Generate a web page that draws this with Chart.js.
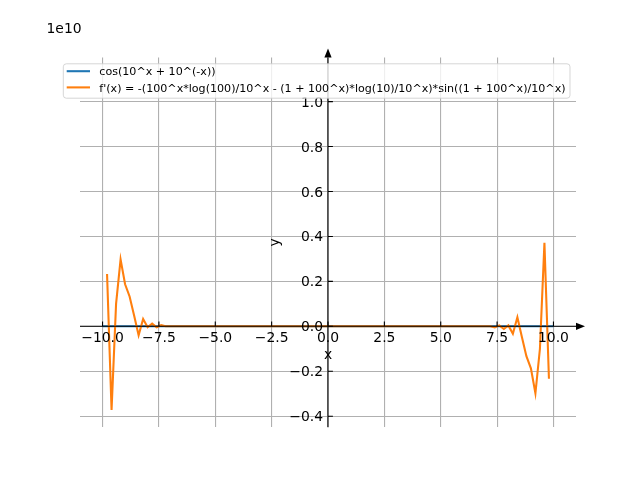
<!DOCTYPE html>
<html>
<head>
<meta charset="utf-8">
<script src="https://cdn.jsdelivr.net/npm/chart.js@4.4.1/dist/chart.umd.min.js"></script>
<style>
  body { margin: 0; background: #ffffff; }
  #wrap { width: 640px; height: 480px; }
</style>
</head>
<body>
<div id="wrap"><canvas id="plot" width="640" height="480"></canvas></div>
<script>
// values are in units of 1e10
var seriesNames = [
  "cos(10^x + 10^(-x))",
  "f'(x) = -(100^x*log(100)/10^x - (1 + 100^x)*log(10)/10^x)*sin((1 + 100^x)/10^x)"
];

var cosX = [-10, -5, 0, 5, 10];
var cosY = [0, 0, 0, 0, 0];

var derivX = [-9.8, -9.6, -9.4, -9.2, -9.0, -8.8, -8.6, -8.4, -8.2, -8.0, -7.8, -7.6, -7.4, -7.2,
  7.2, 7.4, 7.6, 7.8, 8.0, 8.2, 8.4, 8.6, 8.8, 9.0, 9.2, 9.4, 9.6, 9.8];
var derivY = [0.233, -0.372, 0.1, 0.298, 0.187, 0.133, 0.048, -0.04, 0.033, -0.004, 0.012, -0.004, 0.005, 0,
  0, -0.005, 0.004, -0.012, 0.004, -0.033, 0.04, -0.048, -0.133, -0.187, -0.298, -0.1, 0.372, -0.233];

var xTicks = [-10, -7.5, -5, -2.5, 0, 2.5, 5, 7.5, 10];
var xTickLabels = ["\u221210.0", "\u22127.5", "\u22125.0", "\u22122.5", "0.0", "2.5", "5.0", "7.5", "10.0"];
var yTicks = [-0.4, -0.2, 0, 0.2, 0.4, 0.6, 0.8, 1.0];
var yTickLabels = ["\u22120.4", "\u22120.2", "0.0", "0.2", "0.4", "0.6", "0.8", "1.0"];

var colors = ["#1f77b4", "#ff7f0e"];
var font = "DejaVu Sans";

function pts(xs, ys) {
  var out = [];
  for (var i = 0; i < xs.length; i++) out.push({ x: xs[i], y: ys[i] });
  return out;
}

var axesPlugin = {
  id: "centerAxes",
  afterDatasetsDraw: function (chart) {
    var ctx = chart.ctx;
    var xs = chart.scales.x, ys = chart.scales.y;
    var area = chart.chartArea;
    var x0 = xs.getPixelForValue(0);
    var y0 = ys.getPixelForValue(0);

    ctx.save();
    ctx.strokeStyle = "#000";
    ctx.fillStyle = "#000";
    ctx.lineWidth = 1.1;

    // spines through the origin
    ctx.beginPath();
    ctx.moveTo(area.left, y0);
    ctx.lineTo(area.right, y0);
    ctx.moveTo(x0, area.bottom);
    ctx.lineTo(x0, area.top);
    ctx.stroke();

    // arrow heads
    ctx.beginPath();
    ctx.moveTo(area.right + 9, y0);
    ctx.lineTo(area.right, y0 - 3.6);
    ctx.lineTo(area.right, y0 + 3.6);
    ctx.closePath();
    ctx.fill();
    ctx.beginPath();
    ctx.moveTo(x0, area.top - 9);
    ctx.lineTo(x0 - 3.6, area.top);
    ctx.lineTo(x0 + 3.6, area.top);
    ctx.closePath();
    ctx.fill();

    // ticks and labels
    ctx.font = "13.9px '" + font + "'";
    ctx.beginPath();
    for (var i = 0; i < xTicks.length; i++) {
      var px = xs.getPixelForValue(xTicks[i]);
      ctx.moveTo(px, y0);
      ctx.lineTo(px, y0 - 4.9);
    }
    for (var j = 0; j < yTicks.length; j++) {
      var py = ys.getPixelForValue(yTicks[j]);
      ctx.moveTo(x0, py);
      ctx.lineTo(x0 + 4.9, py);
    }
    ctx.stroke();

    ctx.textAlign = "center";
    ctx.textBaseline = "alphabetic";
    for (var i = 0; i < xTicks.length; i++) {
      ctx.fillText(xTickLabels[i], xs.getPixelForValue(xTicks[i]), y0 + 15.3);
    }
    ctx.textAlign = "right";
    for (var j = 0; j < yTicks.length; j++) {
      ctx.fillText(yTickLabels[j], x0 - 4.9, ys.getPixelForValue(yTicks[j]) + 5);
    }

    // axis labels and offset text
    ctx.textAlign = "center";
    ctx.fillText("x", (area.left + area.right) / 2, 359);
    ctx.save();
    ctx.translate(279, (area.top + area.bottom) / 2);
    ctx.rotate(-Math.PI / 2);
    ctx.fillText("y", 0, 0);
    ctx.restore();
    ctx.textAlign = "left";
    ctx.fillText("1e10", 46.5, 33.4);

    // legend
    var lx = 63.3, ly = 63.8, lw = 506.7, lh = 34.4;
    ctx.beginPath();
    ctx.roundRect(lx, ly, lw, lh, 3);
    ctx.fillStyle = "rgba(255,255,255,0.8)";
    ctx.fill();
    ctx.strokeStyle = "rgba(204,204,204,0.8)";
    ctx.lineWidth = 1;
    ctx.stroke();

    ctx.font = "11.1px '" + font + "'";
    var rows = [71.2, 87.4];
    for (var k = 0; k < seriesNames.length; k++) {
      ctx.strokeStyle = colors[k];
      ctx.lineWidth = 2.08;
      ctx.beginPath();
      ctx.moveTo(66.7, rows[k]);
      ctx.lineTo(90, rows[k]);
      ctx.stroke();
      ctx.fillStyle = "#000";
      ctx.fillText(seriesNames[k], 99.3, rows[k] + 4.1);
    }
    ctx.restore();
  }
};

new Chart(document.getElementById("plot").getContext("2d"), {
  type: "line",
  data: {
    datasets: [
      {
        label: seriesNames[0],
        data: pts(cosX, cosY),
        borderColor: colors[0],
        borderWidth: 2.08,
        pointRadius: 0,
        tension: 0,
        order: 1
      },
      {
        label: seriesNames[1],
        data: pts(derivX, derivY),
        borderColor: colors[1],
        borderWidth: 2.08,
        pointRadius: 0,
        tension: 0,
        order: 0
      }
    ]
  },
  options: {
    responsive: false,
    devicePixelRatio: 1,
    animation: false,
    layout: { padding: { left: 80, right: 64, top: 57.6, bottom: 52.8 } },
    plugins: { legend: { display: false }, tooltip: { enabled: false } },
    scales: {
      x: {
        type: "linear",
        min: -11,
        max: 11,
        border: { display: false },
        grid: { color: "#b0b0b0", lineWidth: 1.1, drawTicks: false },
        ticks: { display: false },
        afterBuildTicks: function (s) { s.ticks = xTicks.map(function (v) { return { value: v }; }); },
        afterFit: function (s) { s.height = 0; }
      },
      y: {
        type: "linear",
        min: -0.449,
        max: 1.196,
        border: { display: false },
        grid: { color: "#b0b0b0", lineWidth: 1.1, drawTicks: false },
        ticks: { display: false },
        afterBuildTicks: function (s) { s.ticks = yTicks.map(function (v) { return { value: v }; }); },
        afterFit: function (s) { s.width = 0; }
      }
    }
  },
  plugins: [axesPlugin]
});
</script>
</body>
</html>
